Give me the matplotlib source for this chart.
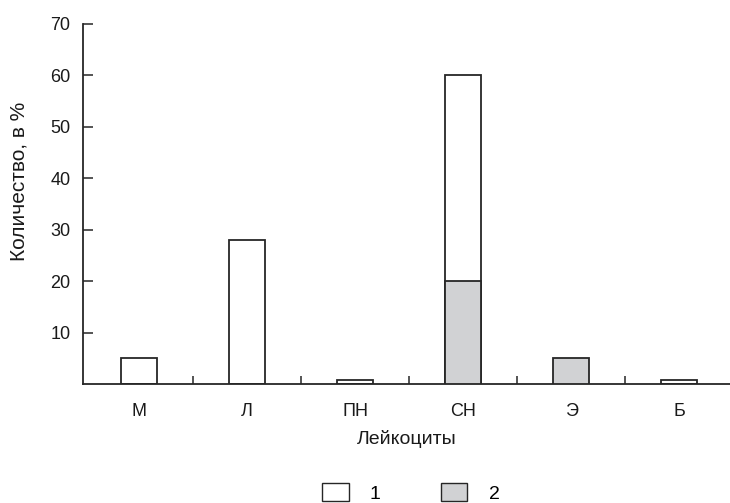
import matplotlib
matplotlib.use("Agg")
import matplotlib.pyplot as plt
from matplotlib.patches import Patch

plt.rcParams['font.family'] = ['Liberation Sans', 'DejaVu Sans']

categories = ['М', 'Л', 'ПН', 'СН', 'Э', 'Б']
series1 = [5, 28, 0.7, 60, 0, 0.8]
series2 = [0, 0, 0, 20, 5, 0]
legend_labels = ['1', '2']
yticks = [10, 20, 30, 40, 50, 60, 70]

edge = '#262626'
txt = '#1a1a1a'
gray = '#d1d2d4'

fig = plt.figure(figsize=(7.3, 5.03), dpi=100)
ax = fig.add_axes([83/730, 1-384/503, 1-83/730, (384-24)/503])

x = list(range(len(categories)))
w = 1/3
for xi, v in zip(x, series1):
    if v > 0:
        ax.bar(xi, v, width=w, color='white', edgecolor=edge, linewidth=1.3, zorder=2)
for xi, v in zip(x, series2):
    if v > 0:
        ax.bar(xi, v, width=w, color=gray, edgecolor=edge, linewidth=1.3, zorder=3)

ax.set_xlim(-0.52, 5.47)
ax.set_ylim(0, 70)
ax.set_yticks(yticks)
ax.set_yticklabels([str(t) for t in yticks], fontsize=13, color=txt)
ax.set_xticks([i + 0.5 for i in range(len(categories) - 1)])
ax.set_xticklabels([])
ax.set_xticks(x, minor=True)
ax.set_xticklabels(categories, minor=True, fontsize=13, color=txt)
ax.tick_params(axis='x', which='minor', length=0, pad=14)
ax.tick_params(axis='x', which='major', direction='in', length=6, width=1.1, color=edge)
ax.tick_params(axis='y', direction='in', length=7, width=1.1, color=edge, pad=9)

for s in ['top', 'right']:
    ax.spines[s].set_visible(False)
for s in ['left', 'bottom']:
    ax.spines[s].set_linewidth(1.3)
    ax.spines[s].set_color(edge)

ax.set_ylabel('Количество, в %', fontsize=15, color=txt)
ax.yaxis.set_label_coords(-0.084, 0.564)
ax.set_xlabel('Лейкоциты', fontsize=14, color=txt, labelpad=7)

handles = [Patch(facecolor='white', edgecolor=edge, linewidth=1.0),
           Patch(facecolor=gray, edgecolor=edge, linewidth=1.0)]
fig.legend(handles, legend_labels, loc='center', bbox_to_anchor=(411/730, 1-493/503),
           ncol=2, frameon=False, fontsize=14, handlelength=1.35, handleheight=1.0,
           handletextpad=1.1, columnspacing=3.1, borderpad=0)

fig.savefig('out.png', dpi=100)
